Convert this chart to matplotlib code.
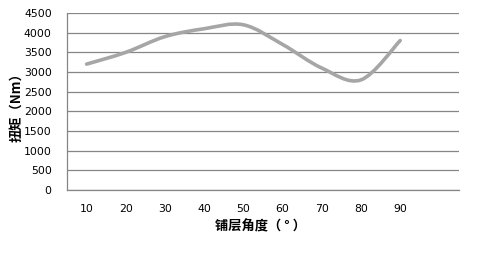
import matplotlib
matplotlib.use("Agg")
import matplotlib.pyplot as plt
from matplotlib.path import Path
from matplotlib.patches import PathPatch
import numpy as np

plt.rcParams['font.family'] = ['DejaVu Sans']

categories = ["10", "20", "30", "40", "50", "60", "70", "80", "90", ""]
torque = [3200, 3500, 3900, 4100, 4200, 3700, 3100, 2800, 3800]
yticks = [0, 500, 1000, 1500, 2000, 2500, 3000, 3500, 4000, 4500]

fig = plt.figure(figsize=(4.78, 2.54), dpi=100)
ax = fig.add_axes([67/478, 1-190/254, (459-67)/478, (190-13)/254])

n = len(categories)
xs = np.arange(len(torque), dtype=float)
ys = np.array(torque, dtype=float)

# Smoothed line (Catmull-Rom via cubic Bezier) through the data points
verts = [(xs[0], ys[0])]
codes = [Path.MOVETO]
t = 1/6
for i in range(len(xs)-1):
    p0 = np.array([xs[max(i-1, 0)], ys[max(i-1, 0)]])
    p1 = np.array([xs[i], ys[i]])
    p2 = np.array([xs[i+1], ys[i+1]])
    p3 = np.array([xs[min(i+2, len(xs)-1)], ys[min(i+2, len(xs)-1)]])
    c1 = p1 + (p2 - p0) * t
    c2 = p2 - (p3 - p1) * t
    verts += [tuple(c1), tuple(c2), tuple(p2)]
    codes += [Path.CURVE4]*3
patch = PathPatch(Path(verts, codes), facecolor='none', edgecolor='#A6A6A6',
                  lw=2.6, capstyle='round', joinstyle='round', zorder=3)
ax.add_patch(patch)

ax.set_xlim(-0.5, n-0.5)
ax.set_ylim(0, 4500)
ax.set_yticks(yticks)
ax.set_yticklabels([str(v) for v in yticks], fontsize=7.8)
ax.set_xticks(np.arange(n))
ax.set_xticklabels(categories, fontsize=7.8)
ax.tick_params(axis='both', length=0, colors='black')
ax.tick_params(axis='y', pad=11)
ax.tick_params(axis='x', pad=10)
ax.grid(axis='y', color='#868686', lw=0.9)
ax.set_axisbelow(True)
for s in ['top', 'right']:
    ax.spines[s].set_visible(False)
ax.spines['left'].set_color('#868686')
ax.spines['bottom'].set_color('#868686')
ax.spines['left'].set_linewidth(0.9)
ax.spines['bottom'].set_linewidth(0.9)

cjk = ['Noto Sans CJK SC', 'DejaVu Sans']
fig.text(260/478, 1-226/254, "铺层角度（ ° ）", family=cjk, fontsize=9.5,
         fontweight='bold', ha='center', va='center')
fig.text(16/478, 1-104/254, "扭矩（Nm）", family=cjk, fontsize=9.5,
         fontweight='bold', ha='center', va='center', rotation=90)

fig.savefig("out.png", dpi=100, facecolor='white')
